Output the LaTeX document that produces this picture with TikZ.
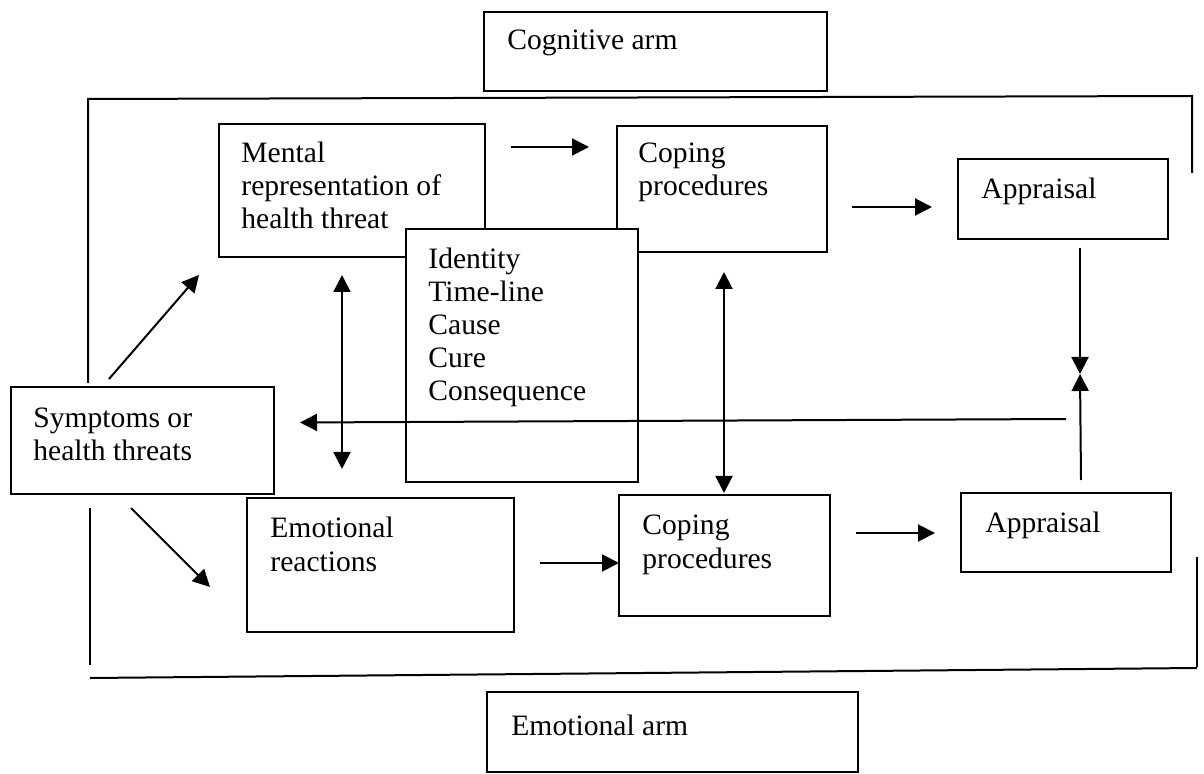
\documentclass[tikz,border=0pt]{standalone}
\usepackage{fontspec}
\setmainfont{Liberation Serif}
\usetikzlibrary{arrows.meta,calc}
\begin{document}
\begin{tikzpicture}[x=0.5pt,y=-0.5pt,
  box/.style={draw,line width=1pt,inner sep=0pt,outer sep=0pt,anchor=north west},
  wbox/.style={box,fill=white},
  lbl/.style={inner sep=0pt,anchor=base west,align=left,font=\fontsize{14.8pt}{16.6pt}\selectfont},
  arr/.style={line width=1pt,-{Triangle[length=8.5pt,width=8.5pt]}},
  darr/.style={line width=1pt,{Triangle[length=8.5pt,width=8.5pt]}-{Triangle[length=8.5pt,width=8.5pt]}},
  frame/.style={line width=1pt}]
\useasboundingbox (0,0) rectangle (1204,774);
% boxes
\node[box,minimum width=171.5pt,minimum height=39.5pt] (cog) at (484,12) {};
\node[box,minimum width=133pt,minimum height=66.5pt] (mental) at (219,124) {};
\node[box,minimum width=105pt,minimum height=63pt] (cop1) at (617,126) {};
\node[box,minimum width=105pt,minimum height=40pt] (app1) at (958,159) {};
\node[wbox,minimum width=116pt,minimum height=126.5pt] (ident) at (406,229) {};
\node[box,minimum width=131.5pt,minimum height=53.5pt] (symp) at (11,387) {};
\node[box,minimum width=133.5pt,minimum height=67pt] (emo) at (247,498) {};
\node[box,minimum width=105.5pt,minimum height=60.5pt] (cop2) at (619,495) {};
\node[box,minimum width=105pt,minimum height=39.5pt] (app2) at (961,493) {};
\node[box,minimum width=185.5pt,minimum height=40pt] (emoarm) at (487,692) {};
% texts (base anchor = baseline of the last line)
\node[lbl] (cogT) at (507,50) {Cognitive arm};
\node[lbl] (mentalT) at (241,229) {Mental\\representation of\\health threat};
\node[lbl] (cop1T) at (638,196) {Coping\\procedures};
\node[lbl] (app1T) at (981,199) {Appraisal};
\node[lbl] (identT) at (428,401) {Identity\\Time-line\\Cause\\Cure\\Consequence};
\node[lbl] (sympT) at (33,461) {Symptoms or\\health threats};
\node[lbl] (emoT) at (270,571) {Emotional\\reactions};
\node[lbl] (cop2T) at (642,568) {Coping\\procedures};
\node[lbl] (app2T) at (985,532) {Appraisal};
\node[lbl] (emoarmT) at (511,735) {Emotional arm};
% frame
\coordinate (f1) at (88,383);
\coordinate (f2) at (88,99);
\coordinate (f3) at (1192,96);
\coordinate (f4) at (1192,173);
\draw[frame] (f1) -- (f2) -- (f3) -- (f4);
\coordinate (g1) at (90,508);
\coordinate (g2) at (90,665);
\draw[frame] (g1) -- (g2);
\coordinate (h1) at (90,678);
\coordinate (h2) at (1197,668);
\draw[frame] (h1) -- (h2);
\coordinate (k1) at (1197,557);
\coordinate (k2) at (1197,667);
\draw[frame] (k1) -- (k2);
% arrows
\draw[arr] ($(mental.north east)+(26,23)$) -- ($(cop1.north west)+(-28,21)$);
\draw[arr] ($(cop1.north east)+(25,81)$) -- ($(app1.north west)+(-26,48)$);
\draw[arr] ($(emo.north east)+(26,65)$) -- (cop2.west |- 0,563);
\draw[arr] ($(cop2.north east)+(26,38)$) -- ($(app2.north west)+(-26,40)$);
\draw[arr] ($(symp.north west)+(98,-8)$) -- ($(mental.south west)+(-20,18)$);
\draw[arr] ($(symp.south west)+(120,14)$) -- ($(emo.west)+(-37,22)$);
\draw[darr] ($(mental.south west)+(123,18)$) -- ($(emo.north west)+(95,-29)$);
\draw[darr] ($(cop1.south west)+(107,20)$) -- ($(cop2.north west)+(105,-2)$);
\coordinate (meet) at (1080,374);
\draw[arr] ($(app1.south west)+(122,9)$) -- (meet);
\draw[arr] ($(app2.north west)+(120,-13)$) -- (meet);
\draw[arr] (1066,419) -- ($(symp.east)+(26,-18)$);
\end{tikzpicture}
\end{document}
